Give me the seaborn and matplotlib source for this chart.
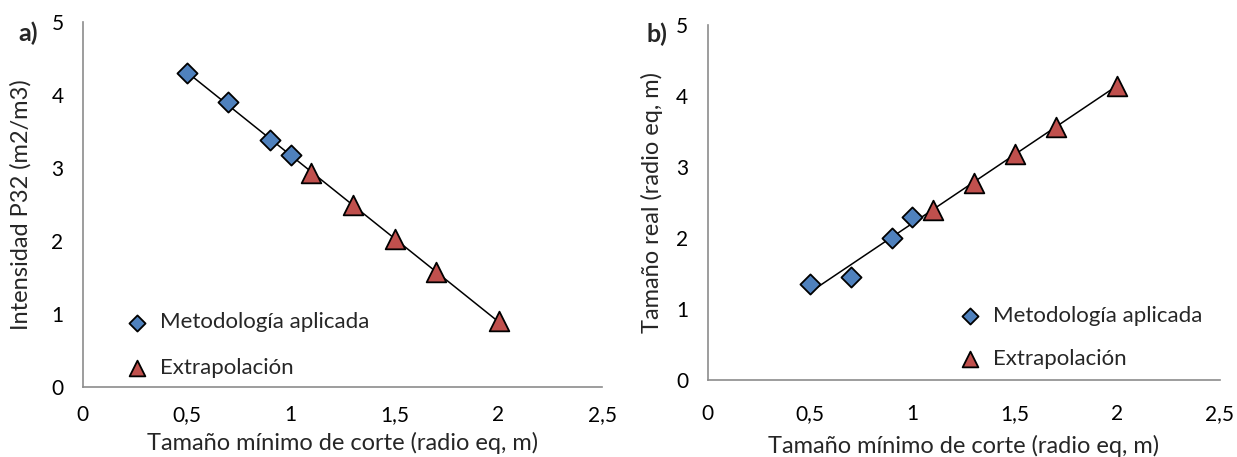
import pandas as pd
import numpy as np
import seaborn as sns
import matplotlib.pyplot as plt

# panel a) Intensidad P32 vs tamaño mínimo de corte
a_met_x = [0.5, 0.7, 0.9, 1.0]
a_met_y = [4.30, 3.90, 3.38, 3.18]
a_ext_x = [1.1, 1.3, 1.5, 1.7, 2.0]
a_ext_y = [2.93, 2.49, 2.03, 1.58, 0.90]

# panel b) Tamaño real vs tamaño mínimo de corte
b_met_x = [0.5, 0.7, 0.9, 1.0]
b_met_y = [1.35, 1.45, 2.00, 2.30]
b_ext_x = [1.1, 1.3, 1.5, 1.7, 2.0]
b_ext_y = [2.40, 2.78, 3.18, 3.57, 4.15]

series = ["Metodología aplicada", "Extrapolación"]
x_ticks = [0, 0.5, 1, 1.5, 2, 2.5]
x_tick_labels = ["0", "0,5", "1", "1,5", "2", "2,5"]
y_ticks = [0, 1, 2, 3, 4, 5]
x_label = "Tamaño mínimo de corte (radio eq, m)"
a_ylabel = "Intensidad P32 (m2/m3)"
b_ylabel = "Tamaño real (radio eq, m)"


def make_df(mx, my, ex, ey):
    return pd.DataFrame(
        {
            "x": mx + ex,
            "y": my + ey,
            "Serie": [series[0]] * len(mx) + [series[1]] * len(ex),
        }
    )


sns.set_theme(style="white")
plt.rcParams["font.family"] = ["Lato", "DejaVu Sans"]

fig = plt.figure(figsize=(12.37, 4.57), dpi=100)
ax_a = fig.add_axes([0.067, 0.153, 0.420, 0.799])
ax_b = fig.add_axes([0.572, 0.168, 0.414, 0.777])

palette = {series[0]: "#4F81BD", series[1]: "#C0504D"}
markers = {series[0]: "D", series[1]: "^"}
sizes = {series[0]: 105, series[1]: 200}

panels = [
    # axes, data, y label, x tick pad, x label pad, y label pad
    (ax_a, make_df(a_met_x, a_met_y, a_ext_x, a_ext_y), a_ylabel, 13, 5, 14),
    (ax_b, make_df(b_met_x, b_met_y, b_ext_x, b_ext_y), b_ylabel, 17, 8, 9),
]

for ax, df, ylabel, xpad, xlpad, ylpad in panels:
    # linear trend line over all points
    sns.regplot(
        data=df, x="x", y="y", scatter=False, ci=None, truncate=True,
        line_kws={"color": "black", "linewidth": 1.1}, ax=ax,
    )
    for s in series:
        sub = df[df["Serie"] == s]
        sns.scatterplot(
            data=sub, x="x", y="y", marker=markers[s], s=sizes[s],
            color=palette[s], edgecolor="black", linewidth=1.3,
            label=s, ax=ax, zorder=3,
        )
    ax.set_xlim(0, 2.5)
    ax.set_ylim(0, 5)
    ax.set_xticks(x_ticks, labels=x_tick_labels)
    ax.set_yticks(y_ticks)
    ax.tick_params(axis="both", length=0, labelsize=15, colors="black")
    ax.tick_params(axis="x", pad=xpad)
    ax.tick_params(axis="y", pad=14)
    ax.set_xlabel(x_label, fontsize=17, labelpad=xlpad)
    ax.set_ylabel(ylabel, fontsize=17, labelpad=ylpad)
    sns.despine(ax=ax)
    for side in ["left", "bottom"]:
        ax.spines[side].set_color("#8c8c8c")
        ax.spines[side].set_linewidth(1.2)

ax_a.text(-0.125, 0.968, "a)", transform=ax_a.transAxes, fontsize=18,
          fontweight="bold", ha="left", va="center")
ax_b.text(-0.12, 0.975, "b)", transform=ax_b.transAxes, fontsize=18,
          fontweight="bold", ha="left", va="center")

ax_a.legend(loc="lower left", bbox_to_anchor=(0.022, -0.03), frameon=False,
            fontsize=16, handletextpad=0.05, labelspacing=1.15, markerscale=0.8)
ax_b.legend(loc="lower left", bbox_to_anchor=(0.43, -0.025), frameon=False,
            fontsize=16, handletextpad=0.05, labelspacing=1.05, markerscale=0.8)

fig.savefig("out.png", dpi=100)
